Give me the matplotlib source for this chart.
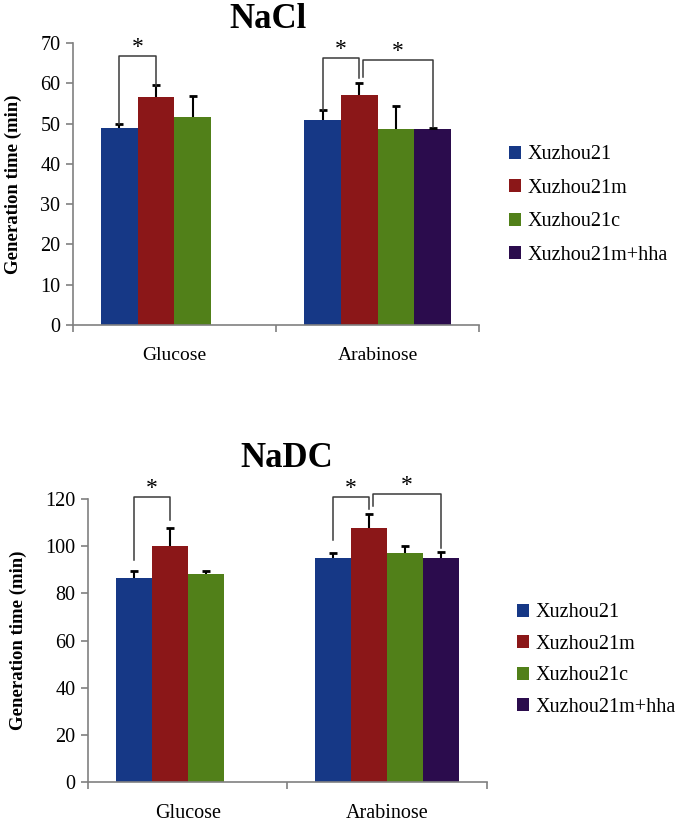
import matplotlib
matplotlib.use("Agg")
import matplotlib.pyplot as plt
from matplotlib.patches import Patch
import numpy as np

plt.rcParams['font.family'] = ['Liberation Serif', 'DejaVu Serif']

categories = ["Glucose", "Arabinose"]
series = ["Xuzhou21", "Xuzhou21m", "Xuzhou21c", "Xuzhou21m+hha"]
colors = ["#163886", "#8b1718", "#518019", "#2b0c4d"]

# NaCl panel (NaN = no bar)
nacl_vals = [[49.0, 50.8], [56.7, 57.0], [51.6, 48.6], [np.nan, 48.6]]
nacl_errs = [[0.9, 2.5], [2.8, 3.2], [5.2, 5.7], [np.nan, 0.3]]
# NaDC panel
nadc_vals = [[86.4, 95.2], [100.3, 107.9], [88.4, 97.0], [np.nan, 95.2]]
nadc_errs = [[3.0, 2.1], [7.4, 5.9], [1.0, 3.0], [np.nan, 2.2]]

# significance brackets: (category, series_a, series_b, level, left_leg_end, right_leg_end, x_shift_left)
nacl_sig = [(0, 0, 1, 66.7, 49.9, 59.4, 0.0),
            (1, 0, 1, 66.4, 53.3, 61.4, 0.0),
            (1, 1, 3, 65.8, 61.6, 49.1, 0.02)]
nadc_sig = [(0, 0, 1, 121.1, 94.2, 111.2, 0.0),
            (1, 0, 1, 120.8, 102.7, 115.7, 0.0),
            (1, 1, 3, 122.2, 117.2, 99.2, 0.017)]

W = 0.181

fig = plt.figure(figsize=(6.75, 8.22), dpi=100)


def panel(rect, vals, errs, sig, ylim, yticks, title, title_xy, leg_anchor, lab_fs, lspace):
    ax = fig.add_axes(rect)
    x = np.arange(len(categories))
    for i, s in enumerate(series):
        pos = x + (i - 1.5) * W
        v = np.array(vals[i], dtype=float)
        e = np.array(errs[i], dtype=float)
        m = ~np.isnan(v)
        ax.bar(pos[m], v[m], width=W, color=colors[i], label=s, zorder=2)
        eb = ax.errorbar(pos[m], v[m], yerr=[np.zeros(m.sum()), e[m]], fmt='none',
                         ecolor='black', elinewidth=1.5, capsize=2.9, capthick=2, zorder=3)
        caps = eb.lines[1]
        if len(caps) == 2:
            caps[0].set_visible(False)
    for (c, a, b, lvl, le, re, sh) in sig:
        xa = c + (a - 1.5) * W + sh
        xb = c + (b - 1.5) * W
        ax.plot([xa, xa, xb, xb], [le, lvl, lvl, re], color='#3a3a3a', lw=1.1,
                clip_on=False, zorder=4)
        ax.annotate("*", ((xa + xb) / 2, lvl), xytext=(0, -1.5), textcoords='offset points',
                    ha='center', va='bottom', fontsize=17, annotation_clip=False)
    ax.set_xlim(-0.5, 1.5)
    ax.set_ylim(*ylim)
    ax.set_yticks(yticks)
    ax.set_xticks(x)
    ax.set_xticklabels(categories, fontsize=lab_fs)
    ax.set_xticks([-0.5, 0.5, 1.5], minor=True)
    ax.tick_params(axis='x', which='major', length=0, pad=16)
    ax.tick_params(axis='x', which='minor', length=5, color='#808080', width=1.2)
    ax.tick_params(axis='y', length=5, color='#808080', width=1.2, labelsize=14.5, pad=4)
    for sp in ['top', 'right']:
        ax.spines[sp].set_visible(False)
    for sp in ['left', 'bottom']:
        ax.spines[sp].set_color('#808080')
        ax.spines[sp].set_linewidth(1.2)
    ax.set_ylabel("Generation time (min)", fontsize=13.5, fontweight='bold')
    fig.text(title_xy[0], title_xy[1], title, ha='center', va='baseline',
             fontsize=25, fontweight='bold')
    handles = [Patch(facecolor=c) for c in colors]
    fig.legend(handles, series, loc='center left', bbox_to_anchor=leg_anchor,
               frameon=False, fontsize=14.5, handlelength=0.6, handleheight=0.6,
               handletextpad=0.3, labelspacing=lspace, borderpad=0, borderaxespad=0)
    return ax


ax1 = panel([0.108, 0.6046, 0.602, 0.343], nacl_vals, nacl_errs, nacl_sig,
            (0, 70), range(0, 71, 10), "NaCl", (268 / 675, 1 - 28 / 822),
            (509 / 675, 1 - 205 / 822), 14, 0.72)
ax1.yaxis.set_label_coords(-0.126, 0.5)
ax2 = panel([0.1304, 0.049, 0.591, 0.3436], nadc_vals, nadc_errs, nadc_sig,
            (0, 120), range(0, 121, 20), "NaDC", (286.5 / 675, 1 - 467 / 822),
            (517 / 675, 1 - 660 / 822), 14.5, 0.62)
ax2.yaxis.set_label_coords(-0.153, 0.5)

fig.savefig("out.png", dpi=100)
